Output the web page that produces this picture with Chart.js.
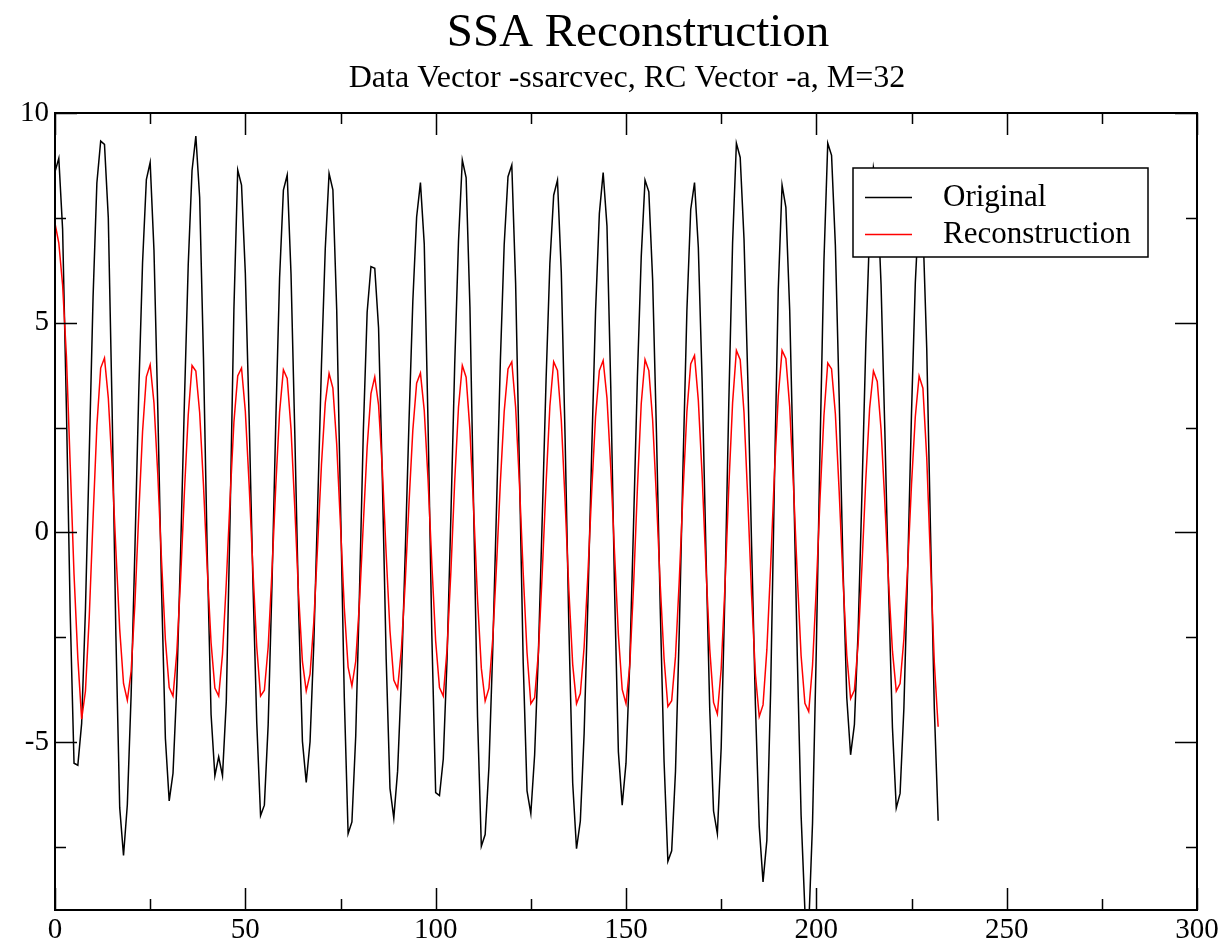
<!DOCTYPE html>
<html>
<head>
<meta charset="utf-8">
<title>SSA Reconstruction</title>
<script src="https://cdn.jsdelivr.net/npm/chart.js@4.4.1/dist/chart.umd.min.js"></script>
<style>
  html, body { margin: 0; padding: 0; background: #fff; }
  canvas { display: block; }
</style>
</head>
<body>
<canvas id="ssaChart" width="1223" height="948"></canvas>
<script>
(function () {
  'use strict'

  // series values, one per sample (x = 0, 1, 2, ...)
  var original = [
    8.6, 8.92, 7.23, 2.94, -1.93, -5.5, -5.55, -4.55, -1.83, 1.89, 5.61, 8.33,
    9.33, 9.25, 7.51, 2.97, -2.47, -6.56, -7.7, -6.49, -3.87, -0.37, 3.33, 6.43,
    8.41, 8.82, 6.73, 2.96, -1.38, -4.91, -6.4, -5.74, -3.64, -0.45, 3.13, 6.38,
    8.63, 9.45, 7.99, 4.18, -0.53, -4.34, -5.8, -5.35, -5.8, -4.02, 0.39, 5.32,
    8.64, 8.28, 6.18, 2.72, -1.2, -4.53, -6.75, -6.5, -4.58, -1.25, 2.64, 6.07,
    8.16, 8.52, 6.17, 2.34, -1.83, -4.98, -5.96, -4.99, -2.62, 0.62, 3.99, 6.77,
    8.56, 8.17, 5.32, 0.69, -3.94, -7.18, -6.9, -4.85, -1.38, 2.42, 5.25, 6.34,
    6.3, 4.88, 1.25, -3.01, -6.1, -6.81, -5.69, -3.49, -0.51, 2.66, 5.51, 7.52,
    8.34, 6.88, 2.58, -2.47, -6.2, -6.27, -5.4, -2.99, 0.4, 4.0, 6.95, 8.88,
    8.46, 5.38, 0.45, -4.4, -7.48, -7.2, -5.58, -2.77, 0.64, 4.1, 6.86, 8.48,
    8.76, 5.95, 1.52, -3.11, -6.16, -6.7, -5.3, -2.83, 0.35, 3.63, 6.41, 8.04,
    8.4, 6.21, 2.26, -2.28, -5.98, -7.54, -6.88, -4.8, -1.63, 1.95, 5.26, 7.6,
    8.58, 7.31, 3.46, -1.38, -5.23, -6.5, -5.5, -3.07, 0.25, 3.71, 6.57, 8.4,
    8.12, 6.02, 2.38, -1.82, -5.46, -7.84, -7.59, -5.7, -2.33, 1.67, 5.3, 7.7,
    8.34, 6.8, 3.61, -0.44, -4.21, -6.64, -7.18, -5.14, -1.39, 3.07, 6.9, 9.28,
    8.94, 7.0, 3.66, -0.33, -4.12, -7.01, -8.33, -7.34, -3.76, 1.25, 5.79, 8.28,
    7.75, 5.31, 1.38, -2.95, -6.75, -9.01, -9.4, -6.93, -2.75, 2.14, 6.48, 9.28,
    8.99, 6.85, 3.22, -0.8, -3.94, -5.3, -4.58, -2.3, 1.0, 4.49, 7.22, 8.7,
    8.2, 5.92, 2.42, -1.45, -4.66, -6.57, -6.22, -4.19, -0.88, 2.84, 5.95, 7.8,
    7.29, 4.4, 0.0, -4.21, -6.87
  ]

  var reconstruction = [
    7.37, 6.9, 5.9, 4.2, 1.6, -1.0, -3.0, -4.45, -3.78, -2.01, 0.34, 2.54,
    3.92, 4.16, 3.21, 1.57, -0.43, -2.31, -3.6, -4.0, -3.31, -1.68, 0.43, 2.4,
    3.71, 4.0, 3.09, 1.39, -0.69, -2.56, -3.7, -3.9, -2.86, -1.1, 0.97, 2.8,
    3.98, 3.85, 2.86, 1.14, -0.87, -2.63, -3.71, -3.9, -2.9, -1.2, 0.82, 2.63,
    3.73, 3.92, 2.89, 1.14, -0.91, -2.73, -3.9, -3.76, -2.73, -0.92, 1.11, 2.87,
    3.88, 3.67, 2.47, 0.58, -1.5, -3.08, -3.78, -3.38, -2.12, -0.29, 1.62, 3.09,
    3.79, 3.44, 2.11, 0.17, -1.8, -3.21, -3.66, -3.07, -1.65, 0.22, 2.03, 3.31,
    3.71, 3.04, 1.49, -0.52, -2.35, -3.52, -3.72, -2.78, -1.2, 0.71, 2.44, 3.56,
    3.8, 2.91, 1.26, -0.76, -2.59, -3.7, -3.9, -2.78, -0.93, 1.22, 2.99, 3.98,
    3.7, 2.44, 0.5, -1.59, -3.24, -4.02, -3.71, -2.53, -0.76, 1.2, 2.88, 3.9,
    4.07, 2.99, 1.17, -0.97, -2.86, -4.08, -3.94, -2.85, -0.96, 1.16, 3.01, 4.07,
    3.86, 2.68, 0.75, -1.39, -3.15, -4.08, -3.84, -2.73, -0.98, 1.0, 2.76, 3.86,
    4.1, 3.21, 1.54, -0.51, -2.44, -3.74, -4.08, -3.16, -1.25, 1.06, 3.07, 4.12,
    3.86, 2.68, 0.82, -1.26, -3.01, -4.15, -4.01, -2.96, -1.13, 1.0, 2.88, 4.02,
    4.22, 3.15, 1.36, -0.82, -2.78, -4.05, -4.33, -3.26, -1.28, 1.07, 3.09, 4.34,
    4.12, 2.86, 0.78, -1.5, -3.39, -4.39, -4.11, -2.8, -0.8, 1.42, 3.25, 4.34,
    4.14, 3.0, 1.11, -1.04, -2.94, -4.07, -4.27, -3.17, -1.31, 0.87, 2.79, 4.04,
    3.9, 2.83, 0.98, -1.11, -2.92, -3.96, -3.76, -2.63, -0.77, 1.27, 2.96, 3.85,
    3.6, 2.46, 0.71, -1.22, -2.83, -3.78, -3.6, -2.54, -0.81, 1.14, 2.76, 3.73,
    3.44, 1.79, -0.71, -3.11, -4.63
  ]

  var seriesNames = ['Original', 'Reconstruction']
  var seriesColors = ['#000000', '#ff0000']

  // tick labels
  var xTicks = [0, 50, 100, 150, 200, 250, 300]
  var xMinorTicks = [25, 75, 125, 175, 225, 275]
  var yTicks = [-5, 0, 5, 10]
  var yMinorTicks = [-7.5, -2.5, 2.5, 7.5]

  var titleText = 'SSA Reconstruction'
  var subtitleText = 'Data Vector -ssarcvec, RC Vector -a, M=32'
  var serif = '"Liberation Serif", "Times New Roman", serif'

  function toPoints(values) {
    return values.map(function (v, i) { return { x: i, y: v } })
  }

  // frame with inward ticks on all four sides, then the boxed legend
  var framePlugin = {
    id: 'frame',
    afterDatasetsDraw: function (chart) {
      var ctx = chart.ctx
      var a = chart.chartArea
      var xs = chart.scales.x
      var ys = chart.scales.y
      ctx.save()
      ctx.strokeStyle = '#000'
      ctx.lineWidth = 2
      ctx.strokeRect(a.left, a.top, a.right - a.left, a.bottom - a.top)

      ctx.lineWidth = 1.5
      ctx.beginPath()
      function xTick(v, len) {
        var p = Math.round(xs.getPixelForValue(v)) + 0.5
        ctx.moveTo(p, a.bottom); ctx.lineTo(p, a.bottom - len)
        ctx.moveTo(p, a.top); ctx.lineTo(p, a.top + len)
      }
      function yTick(v, len) {
        var p = Math.round(ys.getPixelForValue(v)) + 0.5
        ctx.moveTo(a.left, p); ctx.lineTo(a.left + len, p)
        ctx.moveTo(a.right, p); ctx.lineTo(a.right - len, p)
      }
      xTicks.forEach(function (v) { xTick(v, 22) })
      xMinorTicks.forEach(function (v) { xTick(v, 11) })
      yTicks.forEach(function (v) { yTick(v, 22) })
      yMinorTicks.forEach(function (v) { yTick(v, 11) })
      ctx.stroke()

      // legend
      var lx = a.left + 798
      var ly = a.top + 55
      ctx.fillStyle = '#fff'
      ctx.fillRect(lx, ly, 295, 89)
      ctx.lineWidth = 1.5
      ctx.strokeRect(lx, ly, 295, 89)
      ctx.font = '31px ' + serif
      ctx.textBaseline = 'alphabetic'
      ctx.textAlign = 'left'
      chart.data.datasets.forEach(function (ds, i) {
        var y = ly + 29 + i * 37
        ctx.strokeStyle = ds.borderColor
        ctx.lineWidth = 1.5
        ctx.beginPath()
        ctx.moveTo(lx + 12, y + 0.5)
        ctx.lineTo(lx + 59, y + 0.5)
        ctx.stroke()
        ctx.fillStyle = '#000'
        ctx.fillText(ds.label, lx + 90, y + 9)
      })
      ctx.restore()
    },
    afterDraw: function (chart) {
      var ctx = chart.ctx
      ctx.save()
      ctx.fillStyle = '#000'
      ctx.textAlign = 'center'
      ctx.textBaseline = 'alphabetic'
      ctx.font = '47px ' + serif
      ctx.fillText(titleText, 638, 46)
      ctx.font = '32px ' + serif
      ctx.fillText(subtitleText, 627, 87)
      ctx.restore()
    }
  }

  var ctx = document.getElementById('ssaChart').getContext('2d')
  // eslint-disable-next-line no-unused-vars
  var ssaChart = new Chart(ctx, {
    type: 'line',
    data: {
      datasets: [{
        label: seriesNames[0],
        data: toPoints(original),
        borderColor: seriesColors[0],
        borderWidth: 1.5,
        order: 1
      }, {
        label: seriesNames[1],
        data: toPoints(reconstruction),
        borderColor: seriesColors[1],
        borderWidth: 1.5,
        order: 0
      }]
    },
    options: {
      responsive: false,
      animation: false,
      layout: { padding: { top: 113, right: 26, left: 0, bottom: 0 } },
      elements: {
        point: { radius: 0 },
        line: { tension: 0, fill: false }
      },
      plugins: {
        legend: { display: false },
        tooltip: { enabled: false },
        title: { display: false }
      },
      scales: {
        x: {
          type: 'linear',
          min: 0,
          max: 300,
          grid: { display: false, drawTicks: false },
          border: { display: false },
          afterBuildTicks: function (scale) {
            scale.ticks = xTicks.map(function (v) { return { value: v } })
          },
          afterFit: function (scale) {
            scale.height = 38
            scale.paddingLeft = 0
            scale.paddingRight = 0
          },
          ticks: {
            color: '#000',
            padding: 3,
            maxRotation: 0,
            autoSkip: false,
            font: { family: serif, size: 29 }
          }
        },
        y: {
          type: 'linear',
          min: -9,
          max: 10,
          grid: { display: false, drawTicks: false },
          border: { display: false },
          afterBuildTicks: function (scale) {
            scale.ticks = yTicks.map(function (v) { return { value: v } })
          },
          afterFit: function (scale) {
            scale.width = 55
            scale.paddingTop = 0
            scale.paddingBottom = 0
          },
          ticks: {
            color: '#000',
            padding: 6,
            autoSkip: false,
            font: { family: serif, size: 29 }
          }
        }
      }
    },
    plugins: [framePlugin]
  })
}())
</script>
</body>
</html>
